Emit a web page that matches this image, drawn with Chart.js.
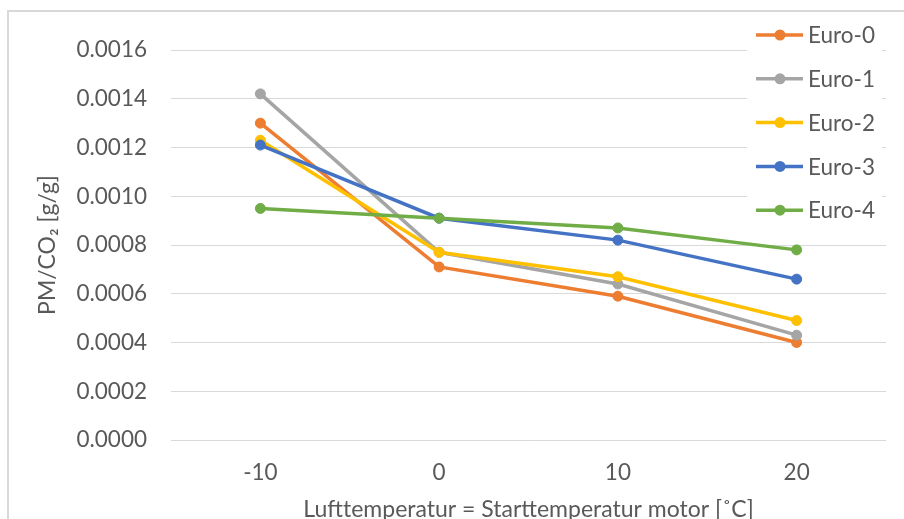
<!DOCTYPE html>
<html>
<head>
<meta charset="utf-8">
<script src="https://cdn.jsdelivr.net/npm/chart.js@4/dist/chart.umd.min.js"></script>
<style>
  html, body { margin: 0; padding: 0; background: #ffffff; }
  #wrap { position: relative; width: 904px; height: 519px; }
</style>
</head>
<body>
<div id="wrap"><canvas id="c" width="904" height="519"></canvas></div>
<script>
// Air temperature at start (°C)
const categories = ['-10', '0', '10', '20'];

// PM/CO2 ratio per emission class [g/g]
const euro0 = [0.00130, 0.00071, 0.00059, 0.00040];
const euro1 = [0.00142, 0.00077, 0.00064, 0.00043];
const euro2 = [0.00123, 0.00077, 0.00067, 0.00049];
const euro3 = [0.00121, 0.00091, 0.00082, 0.00066];
const euro4 = [0.00095, 0.00091, 0.00087, 0.00078];

const seriesNames = ['Euro-0', 'Euro-1', 'Euro-2', 'Euro-3', 'Euro-4'];
const seriesValues = [euro0, euro1, euro2, euro3, euro4];
const seriesColors = ['#ED7D31', '#A5A5A5', '#FFC000', '#4472C4', '#70AD47'];

const yTitle = 'PM/CO\u2082 [g/g]';
const xTitle = 'Lufttemperatur = Starttemperatur motor [\u02DAC]';

const FONT = 'Lato, "Open Sans", sans-serif';
const TEXT = '#595959';
const GRID = '#d9d9d9';

const datasets = seriesNames.map((name, i) => ({
  label: name,
  data: seriesValues[i],
  borderColor: seriesColors[i],
  backgroundColor: seriesColors[i],
  pointBackgroundColor: seriesColors[i],
  pointBorderColor: seriesColors[i],
  borderWidth: 3.5,
  pointRadius: 5,
  pointBorderWidth: 1,
  tension: 0,
  // later series sit on top of earlier ones
  order: seriesNames.length - 1 - i
}));

// Outer frame of the chart box
const framePlugin = {
  id: 'frame',
  beforeDraw(chart) {
    const ctx = chart.ctx;
    ctx.save();
    ctx.fillStyle = '#ffffff';
    ctx.fillRect(0, 0, chart.width, chart.height);
    ctx.strokeStyle = GRID;
    ctx.lineWidth = 2;
    ctx.strokeRect(8, 11, 2000, 2000);
    ctx.restore();
  }
};

// Legend box drawn over the upper right of the plot
const legendPlugin = {
  id: 'sideLegend',
  afterDraw(chart) {
    const ctx = chart.ctx;
    ctx.save();
    ctx.fillStyle = '#ffffff';
    ctx.fillRect(747, 14, 135, 216);
    chart.data.datasets.forEach((ds, i) => {
      const y = 35 + i * 43.8;
      ctx.strokeStyle = ds.borderColor;
      ctx.lineWidth = 3.5;
      ctx.beginPath();
      ctx.moveTo(756, y);
      ctx.lineTo(803, y);
      ctx.stroke();
      ctx.fillStyle = ds.borderColor;
      ctx.beginPath();
      ctx.arc(780, y, 5.5, 0, Math.PI * 2);
      ctx.fill();
      ctx.fillStyle = TEXT;
      ctx.font = '22.5px ' + FONT;
      ctx.textAlign = 'left';
      ctx.textBaseline = 'middle';
      ctx.fillText(ds.label, 808, y + 1);
    });
    ctx.restore();
  }
};

new Chart(document.getElementById('c'), {
  type: 'line',
  data: { labels: categories, datasets },
  plugins: [framePlugin, legendPlugin],
  options: {
    responsive: false,
    animation: false,
    devicePixelRatio: 1,
    layout: { padding: { left: 0, top: 50, right: 18, bottom: 0 } },
    plugins: { legend: { display: false }, tooltip: { enabled: false } },
    scales: {
      x: {
        offset: true,
        grid: { display: false, drawTicks: false },
        border: { display: false },
        ticks: { color: TEXT, font: { family: FONT, size: 22.5 }, padding: 19, maxRotation: 0 },
        title: {
          display: true, text: xTitle, color: TEXT,
          font: { family: FONT, size: 23 }, padding: { top: 0, bottom: -4 }
        },
        afterFit(scale) { scale.height = 79; }
      },
      y: {
        min: 0, max: 0.0016,
        ticks: {
          stepSize: 0.0002, color: TEXT, padding: 24,
          font: { family: FONT, size: 22.5 },
          callback: (v) => Number(v).toFixed(4)
        },
        grid: { color: GRID, lineWidth: 1, drawTicks: false },
        border: { display: false },
        title: {
          display: true, text: yTitle, color: TEXT,
          font: { family: FONT, size: 23 }, padding: { top: 34, bottom: 0 }
        },
        afterFit(scale) { scale.width = 171; }
      }
    }
  }
});
</script>
</body>
</html>
